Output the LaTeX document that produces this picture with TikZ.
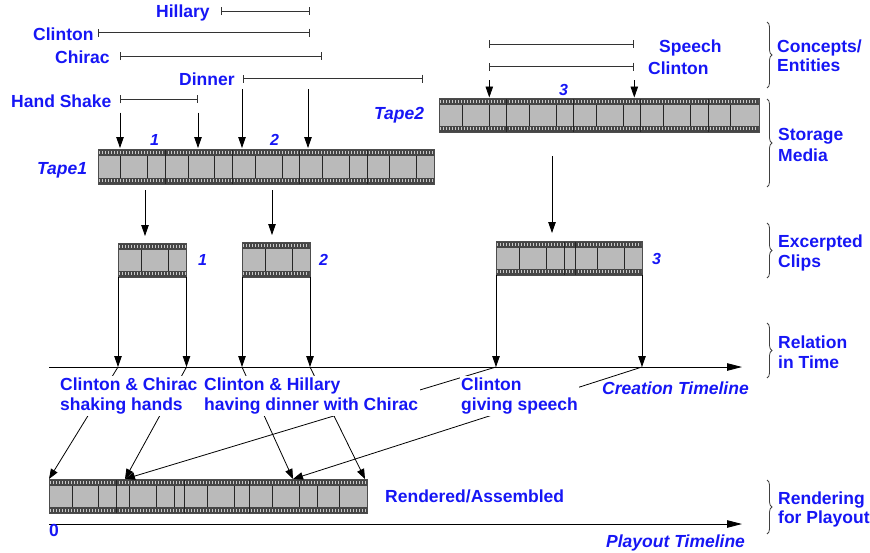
\documentclass[tikz,border=0pt]{standalone}
\usepackage{fontspec}
\setmainfont{Liberation Sans}
\usetikzlibrary{arrows.meta,decorations.pathreplacing}
\definecolor{tb}{RGB}{22,22,245}
\definecolor{filmgray}{RGB}{186,186,186}
\definecolor{stripdark}{RGB}{70,70,70}
\definecolor{holegray}{RGB}{200,200,200}
% #1 x1, #2 y1, #3 x2, #4 y2, #5 frame dividers, #6 full-height dividers
\newcommand{\filmstrip}[6]{%
  \fill[filmgray] (#1,#2) rectangle (#3,#4);
  \fill[stripdark] (#1,#2) rectangle (#3,{#2+6.5});
  \fill[stripdark] (#1,{#4-6.5}) rectangle (#3,#4);
  \draw[holes] ({#1+1},{#2+3.25}) -- ({#3-1},{#2+3.25});
  \draw[holes] ({#1+1},{#4-3.25}) -- ({#3-1},{#4-3.25});
  \foreach \dv in {#5} {\draw[divider] (\dv,{#2+6.5}) -- (\dv,{#4-6.5});}
  \foreach \dv in {#6} {\draw[divider] (\dv,#2) -- (\dv,#4);}
  \draw[filmborder] (#1,#2) rectangle (#3,#4);
}
\begin{document}
\begin{tikzpicture}[x=1pt,y=-1pt,
  lbl/.style={text=tb,font=\fontsize{17.5}{19.5}\selectfont\bfseries,inner sep=0pt,anchor=base west},
  ilbl/.style={lbl,font=\fontsize{17.5}{19.5}\selectfont\bfseries\itshape},
  num/.style={lbl,font=\fontsize{16}{19}\selectfont\bfseries\itshape},
  maskbox/.style={lbl,fill=white,anchor=north west,align=left,inner xsep=1.5pt,inner ysep=2pt},
  interval/.style={draw=black!80,line width=0.9pt,{Bar[width=8pt]}-{Bar[width=8pt]}},
  arr/.style={draw=black,line width=0.8pt,-{Triangle[length=11pt,width=7.5pt]}},
  darr/.style={draw=black,line width=0.8pt,-{Triangle[length=10pt,width=7.5pt]}},
  timeline/.style={draw=black,line width=0.9pt,-{Triangle[length=15pt,width=7.5pt]}},
  grp/.style={draw=black!75,line width=0.8pt,decorate,decoration={brace,amplitude=5pt}},
  holes/.style={draw=holegray,line width=3pt,dash pattern=on 1.4pt off 1.6pt},
  divider/.style={draw=black!85,line width=0.9pt},
  filmborder/.style={draw=black!70,line width=0.8pt}]
\useasboundingbox (0,0) rectangle (870,552);

% ---------- concept intervals ----------
\node[lbl] (hillary) at (156,17) {Hillary};
\draw[interval] (220.7,11) coordinate (hilA) -- (310,11) coordinate (hilB);
\node[lbl] (clinton) at (33,40) {Clinton};
\draw[interval] (97.7,32.7) coordinate (cliA) -- (310,32.7) coordinate (cliB);
\node[lbl] (chirac) at (55,63) {Chirac};
\draw[interval] (120,56) coordinate (chiA) -- (321.7,56) coordinate (chiB);
\node[lbl] (dinner) at (179,85) {Dinner};
\draw[interval] (243,78.7) coordinate (dinA) -- (422.7,78.7) coordinate (dinB);
\node[lbl] (handshake) at (11,107) {Hand Shake};
\draw[interval] (120,99.3) coordinate (hsA) -- (198,99.3) coordinate (hsB);

\draw[interval] (489.3,44) coordinate (spA) -- (634.3,44) coordinate (spB);
\draw[interval] (489.3,66.7) coordinate (cl2A) -- (634.3,66.7) coordinate (cl2B);
\node[lbl] (speech) at (659,52) {Speech};
\node[lbl] (clinton2) at (648,74) {Clinton};

% ---------- storage tapes ----------
\filmstrip{98}{149}{434}{184}{120,147,188,214,255,282,322,349,389,416}{165,232,299,367}
\path (98,149) coordinate (tape1) (434,184) coordinate (tape1se);
\node[ilbl] (tape1lbl) at (37,174) {Tape1};
\node[num] (n1a) at (150,145) {1};
\node[num] (n2a) at (270,145) {2};

\filmstrip{439}{98}{759}{132}{462,489,529,556,596,623,663,690,730}{506,573,640,708}
\path (439,98) coordinate (tape2) (759,132) coordinate (tape2se);
\node[ilbl] (tape2lbl) at (374,119) {Tape2};
\node[num] (n3a) at (559,95) {3};

\draw[arr] (120,112.7) coordinate (a1) -- (120,148) coordinate (b1);
\draw[arr] (198,112.7) coordinate (a2) -- (198,148) coordinate (b2);
\draw[arr] (242,89.3) coordinate (a3) -- (242,148) coordinate (b3);
\draw[arr] (308,89.3) coordinate (a4) -- (308,148) coordinate (b4);
\draw[arr] (489.3,80) coordinate (a5) -- (489.3,97.5) coordinate (b5);
\draw[arr] (634.3,80) coordinate (a6) -- (634.3,97.5) coordinate (b6);

% ---------- excerpted clips ----------
\filmstrip{118}{243}{186.5}{277}{141.5,168}{}
\filmstrip{242}{242.5}{310}{277}{265,292}{}
\filmstrip{496}{241}{642}{275}{519,546,597,624}{564,575}
\node[num] (n1b) at (198,265) {1};
\node[num] (n2b) at (319,265) {2};
\node[num] (n3b) at (652,264) {3};

\draw[arr] (145,190) coordinate (t1c1) -- (145,236) coordinate (c1top);
\draw[arr] (272,190) coordinate (t1c2) -- (272,235) coordinate (c2top);
\draw[arr] (552,156) coordinate (t2c3) -- (552,233) coordinate (c3top);

% ---------- creation timeline ----------
\draw[timeline] (49,367) coordinate (ct0) -- (742,367) coordinate (ct1);
\path (118,367) coordinate (c1s) (186.5,367) coordinate (c1e)
      (242,367) coordinate (c2s) (310,367) coordinate (c2e)
      (496,367) coordinate (c3s) (642,367) coordinate (c3e);
\draw[arr] (118,277) -- (c1s);
\draw[arr] (186.5,277) -- (c1e);
\draw[arr] (242,277) -- (c2s);
\draw[arr] (310,277) -- (c2e);
\draw[arr] (496,275) -- (c3s);
\draw[arr] (642,275) -- (c3e);

% ---------- rendered ----------
\filmstrip{49}{479}{367.5}{513.5}{72,98,129,156,174,207,234,272,299,317,339}{116,184,249}
\path (49,479) coordinate (r0) (125,479) coordinate (r1)
      (293,479) coordinate (r2) (365,479) coordinate (r3);
\draw[darr] (c1s) -- (r0);
\draw[darr] (c1e) -- (r1);
\draw[darr] (c3s) -- (r1);
\draw[darr] (c2s) -- (r2);
\draw[darr] (c3e) -- (r2);
\draw[darr] (c2e) -- (r3);

\node[maskbox] (lblA) at (58.5,376) {Clinton \& Chirac\\shaking hands};
\node[maskbox] (lblB) at (202.5,376) {Clinton \& Hillary\\having dinner with Chirac};
\node[maskbox] (lblC) at (459.5,376) {Clinton\\giving speech};
\node[ilbl] (creation) at (602,394) {Creation Timeline};
\node[lbl] (rendered) at (385,502) {Rendered/Assembled};

% ---------- playout timeline ----------
\draw[timeline] (49,524) coordinate (pt0) -- (742,524) coordinate (pt1);
\node[lbl] (zero) at (49,536) {0};
\node[ilbl] (playout) at (606,547) {Playout Timeline};

% ---------- right-hand groups ----------
\draw[grp] (767,22) -- (767,88);
\node[lbl] (g1a) at (777,52) {Concepts/};
\node[lbl] (g1b) at (777,71) {Entities};
\draw[grp] (767,99) -- (767,187);
\node[lbl] (g2a) at (778,140) {Storage};
\node[lbl] (g2b) at (778,161) {Media};
\draw[grp] (767,223) -- (767,278);
\node[lbl] (g3a) at (778,247) {Excerpted};
\node[lbl] (g3b) at (778,267) {Clips};
\draw[grp] (767,323) -- (767,378);
\node[lbl] (g4a) at (778,348) {Relation};
\node[lbl] (g4b) at (778,368) {in Time};
\draw[grp] (767,480) -- (767,534);
\node[lbl] (g5a) at (778,504) {Rendering};
\node[lbl] (g5b) at (778,523) {for Playout};
\end{tikzpicture}
\end{document}
